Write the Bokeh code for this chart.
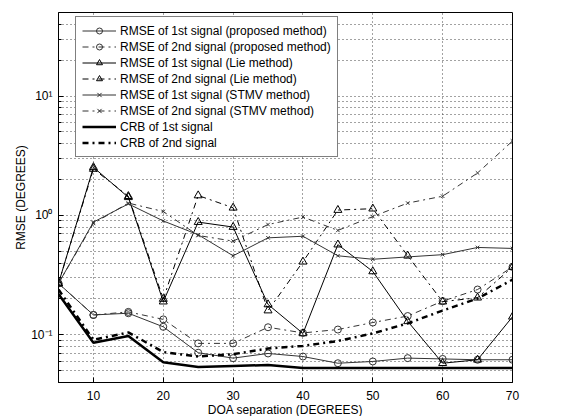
from bokeh.plotting import figure
from bokeh.models import FixedTicker, Range1d, Legend
from bokeh.embed import file_html
from bokeh.resources import INLINE

doa = [5, 10, 15, 20, 25, 30, 35, 40, 45, 50, 55, 60, 65, 70]

prop1 = [0.27, 0.147, 0.152, 0.117, 0.071, 0.064, 0.070, 0.066, 0.058, 0.060, 0.064, 0.063, 0.062, 0.062]
prop2 = [0.27, 0.147, 0.156, 0.135, 0.085, 0.085, 0.116, 0.104, 0.111, 0.127, 0.144, 0.192, 0.240, 0.371]
lie1 = [0.27, 2.53, 1.42, 0.19, 0.88, 0.80, 0.18, 0.103, 0.57, 0.34, 0.13, 0.058, 0.062, 0.142]
lie2 = [0.27, 2.45, 1.45, 0.20, 1.47, 1.16, 0.16, 0.41, 1.11, 1.14, 0.46, 0.19, 0.205, 0.37]
stmv1 = [0.27, 0.88, 1.25, 0.90, 0.69, 0.46, 0.65, 0.67, 0.46, 0.43, 0.45, 0.47, 0.54, 0.53]
stmv2 = [0.27, 0.86, 1.27, 1.08, 0.68, 0.61, 0.84, 0.97, 0.75, 0.98, 1.27, 1.45, 2.27, 4.2]
crb1 = [0.22, 0.086, 0.098, 0.059, 0.054, 0.055, 0.056, 0.053, 0.053, 0.053, 0.053, 0.053, 0.053, 0.053]
crb2 = [0.24, 0.091, 0.105, 0.072, 0.066, 0.069, 0.077, 0.081, 0.089, 0.103, 0.125, 0.160, 0.202, 0.29]

x_ticks = [10, 20, 30, 40, 50, 60, 70]
y_ticks = [0.1, 1, 10]
y_tick_labels = {0.1: "10\u207b\u00b9", 1: "10\u2070", 10: "10\u00b9"}
y_minor = [0.04, 0.05, 0.06, 0.07, 0.08, 0.09, 0.2, 0.3, 0.4, 0.5, 0.6, 0.7, 0.8, 0.9,
           2, 3, 4, 5, 6, 7, 8, 9, 20, 30, 40]

FONT = "Liberation Sans"

p = figure(width=547, height=414, frame_width=454, frame_height=370,
           y_axis_type="log", x_range=Range1d(5, 70), y_range=Range1d(0.04, 50),
           output_backend="svg", toolbar_location=None,
           min_border_left=58, min_border_top=12, min_border_right=35, min_border_bottom=32)

p.outline_line_color = "black"
p.outline_line_width = 1
p.background_fill_color = "white"
p.border_fill_color = "white"

p.xaxis.ticker = FixedTicker(ticks=x_ticks)
p.yaxis.ticker = FixedTicker(ticks=y_ticks, minor_ticks=y_minor)
p.yaxis.major_label_overrides = y_tick_labels
p.xaxis.axis_label = "DOA separation (DEGREES)"
p.yaxis.axis_label = "RMSE (DEGREES)"
for ax in (p.xaxis, p.yaxis):
    ax.axis_label_text_font = FONT
    ax.axis_label_text_font_style = "normal"
    ax.axis_label_text_font_size = "12px"
    ax.axis_label_text_color = "black"
    ax.major_label_text_font = FONT
    ax.major_label_text_font_size = "12px"
    ax.major_label_text_color = "black"
    ax.major_tick_in = 5
    ax.major_tick_out = 0
    ax.minor_tick_in = 3
    ax.minor_tick_out = 0
    ax.axis_line_color = "black"
    ax.major_tick_line_color = "black"
    ax.minor_tick_line_color = "black"
    ax.axis_label_standoff = 0
    ax.major_label_standoff = 8
p.xaxis.minor_tick_line_color = None
p.yaxis.major_label_standoff = 6

p.xgrid.grid_line_color = "#444444"
p.xgrid.grid_line_dash = "1 3"
p.ygrid.grid_line_color = "#444444"
p.ygrid.grid_line_dash = "1 3"
p.ygrid.minor_grid_line_color = "#444444"
p.ygrid.minor_grid_line_dash = "1 3"

items = []

def add(y, label, dash, marker, width=1, color="black", size=7):
    r = p.line(doa, y, line_color=color, line_width=width, line_dash=dash)
    rs = [r]
    if marker:
        s = p.scatter(doa, y, marker=marker, size=size, line_color=color,
                      fill_color=None, line_width=1)
        rs.append(s)
    items.append((label, rs))

add(prop1, "RMSE of 1st signal (proposed method)", "solid", "circle", color="#333333", size=7)
add(prop2, "RMSE of 2nd signal (proposed method)", "dashdot", "circle", color="#333333", size=7)
add(lie1, "RMSE of 1st signal (Lie method)", "solid", "triangle", size=8)
add(lie2, "RMSE of 2nd signal (Lie method)", "dashdot", "triangle", size=8)
add(stmv1, "RMSE of 1st signal (STMV method)", "solid", "x", color="#333333", size=5)
add(stmv2, "RMSE of 2nd signal (STMV method)", "dashdot", "x", color="#333333", size=5)
add(crb1, "CRB of 1st signal", "solid", None, width=2.5)
add(crb2, "CRB of 2nd signal", "dashdot", None, width=2.5)

legend = Legend(items=items, location=(17, 225))
legend.border_line_color = "black"
legend.border_line_width = 1
legend.background_fill_alpha = 1
legend.label_text_font = FONT
legend.label_text_font_size = "12px"
legend.label_text_color = "black"
legend.glyph_width = 34
legend.glyph_height = 15
legend.label_height = 15
legend.spacing = 1
legend.padding = 6
legend.margin = 0
legend.label_standoff = 4
p.add_layout(legend, "center")

open("out.html", "w").write(file_html(p, INLINE))
